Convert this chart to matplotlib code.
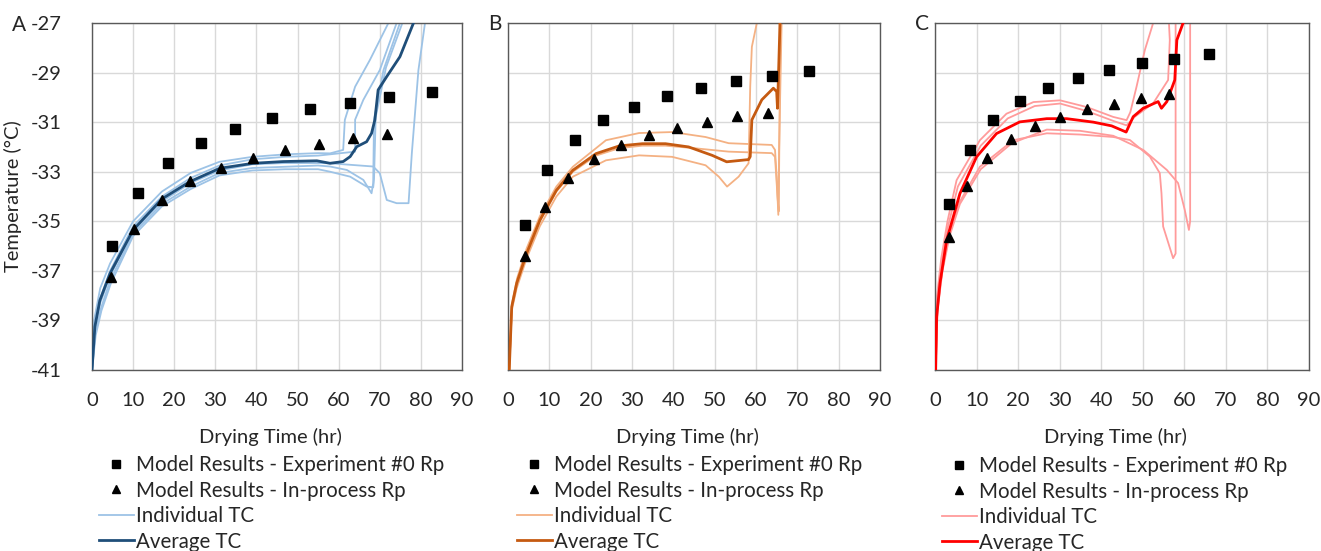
import matplotlib.pyplot as plt

plt.rcParams['font.family'] = ['Lato', 'DejaVu Sans']
plt.rcParams['axes.unicode_minus'] = False

# ---- Panel A ----
sqA_hr = [4.8, 11.1, 18.6, 26.4, 34.9, 43.9, 53.0, 62.7, 72.3, 82.6]
sqA_T = [-36.0, -33.87, -32.63, -31.85, -31.26, -30.84, -30.48, -30.21, -30.0, -29.8]
triA_hr = [4.5, 10.3, 17.0, 23.9, 31.3, 39.1, 46.9, 55.1, 63.4, 71.8]
triA_T = [-37.25, -35.3, -34.15, -33.37, -32.83, -32.43, -32.12, -31.88, -31.62, -31.48]
avgA_hr = [0, 0.7, 1.9, 4.4, 10.0, 17, 23.8, 31.1, 39.2, 46.5, 54.7, 57.9, 61.1, 62.8, 64.4, 66.8, 68.0, 68.8, 69.6, 71.7, 74.9, 78.2]
avgA_T = [-41, -39.25, -38.2, -37.1, -35.35, -34.1, -33.4, -32.86, -32.66, -32.59, -32.56, -32.66, -32.59, -32.39, -31.99, -31.79, -31.45, -30.91, -29.7, -29.16, -28.36, -27]
tcA_hr = [
    [0, 0.5, 2, 4.4, 10, 17, 24, 31, 39, 47, 55, 57.9, 61.1, 61.5, 64, 67.6, 72.1],
    [0, 0.7, 2, 4.4, 10, 17, 24, 31, 39, 47, 55, 64, 64, 66, 70, 74.1],
    [0, 0.8, 2.2, 4.4, 10, 17, 24, 31, 39, 47, 55, 57.9, 62, 66, 68, 68.4, 68.6, 70.9, 74.9],
    [0, 0.9, 2.3, 4.6, 10, 17, 24, 31, 39, 47, 55, 57.9, 62.8, 66.8, 68.4, 68.6, 69.0, 71.5, 75.5],
    [0, 0.7, 2, 4.4, 10, 17, 24, 31, 39, 47, 55, 57.9, 68.4, 70, 71.7, 74.1, 77, 77.8, 79.4, 81],
]
tcA_T = [
    [-41, -39.0, -37.7, -36.7, -35.0, -33.8, -33.05, -32.6, -32.4, -32.3, -32.25, -32.26, -32.12, -30.91, -29.57, -28.49, -27],
    [-41, -39.2, -38.1, -37.0, -35.2, -34.0, -33.25, -32.75, -32.5, -32.4, -32.35, -32.19, -30.9, -30.1, -28.9, -27],
    [-41, -39.5, -38.5, -37.4, -35.5, -34.3, -33.6, -33.05, -32.85, -32.8, -32.75, -32.79, -32.93, -33.33, -33.87, -33.46, -30.9, -28.9, -27],
    [-41, -39.6, -38.6, -37.5, -35.6, -34.4, -33.7, -33.15, -32.95, -32.9, -32.9, -33.0, -33.2, -33.6, -33.63, -33.3, -30.8, -28.8, -27],
    [-41, -39.3, -38.3, -37.2, -35.4, -34.2, -33.45, -32.95, -32.7, -32.65, -32.65, -32.66, -32.79, -33.06, -34.14, -34.27, -34.27, -32.25, -28.9, -27],
]

# ---- Panel B ----
sqB_hr = [4.2, 9.5, 16.1, 23.0, 30.5, 38.5, 46.8, 55.2, 63.9, 72.8]
sqB_T = [-35.13, -32.94, -31.73, -30.92, -30.39, -29.94, -29.61, -29.35, -29.14, -28.95]
triB_hr = [4.2, 9.0, 14.6, 20.8, 27.3, 34.0, 40.9, 48.2, 55.4, 63.0]
triB_T = [-36.41, -34.42, -33.25, -32.5, -31.93, -31.53, -31.22, -30.99, -30.76, -30.62]
avgB_hr = [0.3, 0.9, 2.1, 4.5, 7.7, 11.7, 15.7, 21.3, 26.9, 32.5, 38.1, 43.7, 49.4, 52.9, 58.2, 58.6, 59, 61.4, 64.2, 65, 65.2, 65.5, 65.8]
avgB_T = [-41, -38.45, -37.5, -36.3, -34.96, -33.75, -32.94, -32.27, -31.96, -31.87, -31.87, -32.0, -32.34, -32.6, -32.51, -32.39, -30.91, -30.1, -29.63, -29.77, -30.44, -28.77, -27]
tcB_hr = [
    [0.3, 1, 2.2, 4.5, 7.7, 11.7, 15.7, 23.7, 31.7, 39.7, 47.8, 53.4, 63.8, 64.6, 65.0, 65.4, 65.6, 66.2],
    [0.3, 0.9, 2.1, 4.5, 7.7, 11.7, 15.7, 21.3, 26.9, 32.5, 38.1, 45, 53.4, 63.8, 64.6, 65.2, 65.5, 65.9],
    [0.3, 0.9, 2.1, 4.5, 7.7, 11.7, 15.7, 23.7, 31.7, 39.7, 47.8, 51, 53.0, 55.8, 58.2, 58.6, 59, 60.2],
]
tcB_T = [
    [-41, -38.3, -37.3, -36.1, -34.8, -33.6, -32.8, -31.73, -31.44, -31.4, -31.6, -31.85, -31.92, -32.12, -33.2, -34.74, -32.0, -27],
    [-41, -38.5, -37.55, -36.35, -35.0, -33.8, -33.0, -32.35, -32.05, -31.95, -31.95, -32.05, -32.19, -32.25, -32.4, -34.0, -34.6, -27],
    [-41, -38.6, -37.7, -36.5, -35.2, -34.0, -33.2, -32.54, -32.34, -32.4, -32.74, -33.2, -33.6, -33.2, -32.66, -29.57, -27.96, -27],
]

# ---- Panel C ----
sqC_hr = [3.4, 8.4, 14.0, 20.4, 27.3, 34.5, 41.9, 49.7, 57.6, 65.9]
sqC_T = [-34.31, -32.13, -30.92, -30.15, -29.61, -29.22, -28.9, -28.61, -28.44, -28.26]
triC_hr = [3.4, 7.8, 12.6, 18.3, 24.0, 30.2, 36.5, 43.1, 49.5, 56.4]
triC_T = [-35.63, -33.59, -32.43, -31.66, -31.15, -30.79, -30.45, -30.25, -30.02, -29.88]
avgC_hr = [0.16, 0.4, 1.2, 2.8, 6, 10, 14.8, 20.4, 26.9, 31.7, 38.1, 42.5, 46.0, 47.7, 50.1, 53.7, 54.5, 55.8, 57.7, 58.2, 59.7]
avgC_T = [-41, -38.85, -37.5, -35.76, -33.88, -32.4, -31.46, -30.99, -30.86, -30.86, -31.0, -31.15, -31.4, -30.78, -30.44, -30.17, -30.44, -30.17, -29.3, -27.69, -27]
tcC_hr = [
    [0.16, 0.5, 1.5, 3, 5.2, 10.8, 17.2, 23.7, 30.1, 36.5, 42.9, 46.1, 47.0, 48.5, 50.5, 52.5],
    [0.16, 0.5, 1.5, 3, 5.5, 11, 17.5, 24, 30.1, 36.5, 42.9, 46.1, 48.1, 52.5, 56.1, 56.5, 56.3],
    [0.16, 0.6, 1.8, 3.5, 6, 10.8, 18.8, 26.9, 34.9, 42.9, 46.9, 51.7, 54.1, 54.5, 54.9, 57.3, 57.9, 57.9],
    [0.16, 0.6, 1.8, 3.5, 6, 11, 18.5, 26.9, 34.9, 42.9, 50.1, 55.8, 58.5, 60.1, 61.1, 61.4, 61.4],
]
tcC_T = [
    [-41, -38.0, -36.5, -35.0, -33.34, -31.73, -30.66, -30.19, -30.12, -30.39, -30.79, -30.92, -30.6, -29.57, -28.09, -27],
    [-41, -38.3, -36.8, -35.3, -33.6, -31.95, -30.85, -30.35, -30.25, -30.55, -30.95, -31.13, -30.78, -30.24, -29.3, -27.69, -27],
    [-41, -38.5, -36.9, -35.5, -34.2, -32.8, -31.73, -31.45, -31.5, -31.6, -31.72, -32.39, -33.06, -33.87, -35.21, -36.49, -36.3, -27],
    [-41, -38.6, -37.0, -35.6, -34.3, -32.9, -31.85, -31.3, -31.35, -31.55, -32.12, -32.93, -33.46, -34.54, -35.35, -35.0, -27],
]

xticks = list(range(0, 91, 10))
yticks = list(range(-41, -26, 2))
legend_labels = ['Model Results - Experiment #0 Rp', 'Model Results - In-process Rp',
                 'Individual TC', 'Average TC']

fig = plt.figure(figsize=(13.21, 5.51), dpi=100)
W, H = 1321, 551


def panel(rect, letter, letter_xy, sq, tri, avg, tcs, light, dark, leg_xy, first=False):
    l, t, r, b = rect
    ax = fig.add_axes([l / W, 1 - b / H, (r - l) / W, (b - t) / H])
    tc_line = None
    for hr, T in zip(*tcs):
        tc_line, = ax.plot(hr, T, color=light, lw=1.3, zorder=2)
    avg_line, = ax.plot(avg[0], avg[1], color=dark, lw=2.0, zorder=3)
    sq_pts, = ax.plot(sq[0], sq[1], 's', color='black', ms=7, ls='none', zorder=4)
    tri_pts, = ax.plot(tri[0], tri[1], '^', color='black', ms=7, ls='none', zorder=4)

    ax.set_xlim(0, 90)
    ax.set_ylim(-41, -27)
    ax.set_xticks(xticks)
    ax.set_yticks(yticks)
    ax.grid(True, color='#d9d9d9', lw=1.0)
    ax.set_axisbelow(True)
    for s in ax.spines.values():
        s.set_color('#595959')
        s.set_linewidth(1.0)
    ax.tick_params(length=0, labelsize=14.5, colors='#262626')
    ax.tick_params(axis='x', pad=16)
    ax.tick_params(axis='y', pad=22)
    if first:
        ax.set_ylabel('Temperature (°C)', fontsize=14.5, color='#262626')
        ax.yaxis.set_label_coords((22 - l) / (r - l), 0.5)
    else:
        ax.set_yticklabels([])
    ax.set_xlabel('Drying Time (hr)', fontsize=14.5, color='#262626')
    ax.xaxis.set_label_coords(0.5 - 7 / (r - l), -(437 - b) / (b - t))
    ax.xaxis.label.set_va('center')

    fig.text(letter_xy[0] / W, 1 - letter_xy[1] / H, letter, fontsize=15,
             ha='center', va='center', color='#262626')

    leg = fig.legend([sq_pts, tri_pts, tc_line, avg_line], legend_labels,
                     loc='upper left', bbox_to_anchor=(leg_xy[0] / W, 1 - leg_xy[1] / H),
                     frameon=False, fontsize=14.8, handlelength=1.7, handletextpad=0.1,
                     borderpad=0, borderaxespad=0, labelspacing=0.27, markerscale=0.75)
    for txt in leg.get_texts():
        txt.set_color('#262626')
    return ax


panel((92, 23, 462, 370), 'A', (19, 25), (sqA_hr, sqA_T), (triA_hr, triA_T),
      (avgA_hr, avgA_T), (tcA_hr, tcA_T), '#9dc3e6', '#1f4e79', (99, 455), first=True)
panel((508, 23, 880, 370), 'B', (495, 24), (sqB_hr, sqB_T), (triB_hr, triB_T),
      (avgB_hr, avgB_T), (tcB_hr, tcB_T), '#f4b183', '#c55a11', (517, 455))
panel((935, 23, 1309, 370), 'C', (922, 24), (sqC_hr, sqC_T), (triC_hr, triC_T),
      (avgC_hr, avgC_T), (tcC_hr, tcC_T), '#ff9b9b', '#ff0000', (942, 456))

fig.savefig('out.png', dpi=100)
